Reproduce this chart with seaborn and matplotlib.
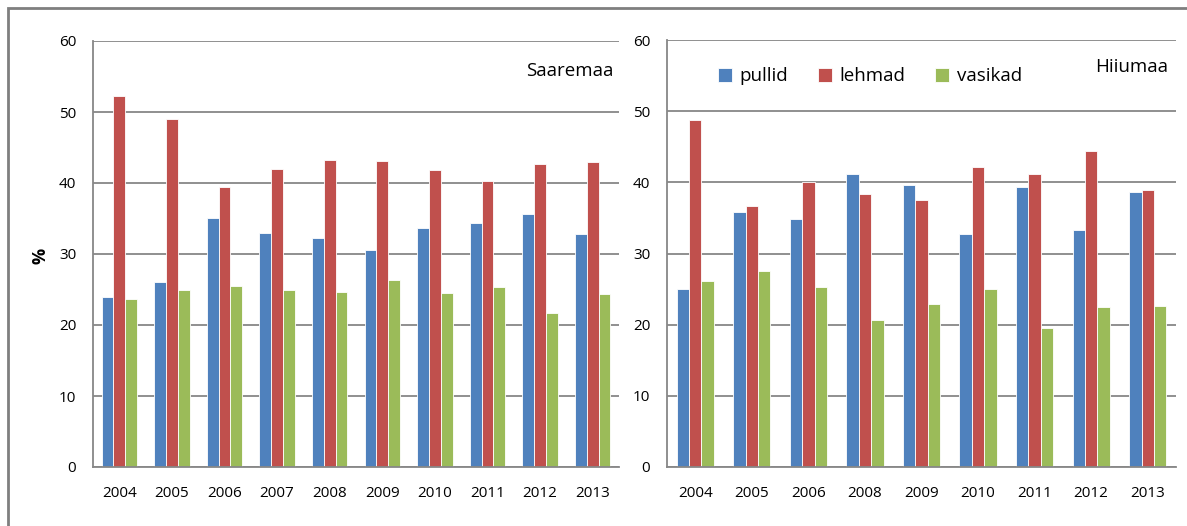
import seaborn as sns
import matplotlib.pyplot as plt
import numpy as np
import pandas as pd
from matplotlib.patches import Rectangle

# Data
years_saare = ['2004', '2005', '2006', '2007', '2008', '2009', '2010', '2011', '2012', '2013']
pullid_saare = [23.9, 26.0, 35.0, 33.0, 32.2, 30.6, 33.6, 34.3, 35.7, 32.8]
lehmad_saare = [52.2, 49.0, 39.5, 42.0, 43.2, 43.1, 41.9, 40.3, 42.7, 42.9]
vasikad_saare = [23.6, 24.9, 25.5, 25.0, 24.6, 26.3, 24.5, 25.4, 21.7, 24.3]

years_hiiu = ['2004', '2005', '2006', '2008', '2009', '2010', '2011', '2012', '2013']
pullid_hiiu = [25.0, 35.8, 34.8, 41.2, 39.6, 32.8, 39.4, 33.3, 38.7]
lehmad_hiiu = [48.8, 36.7, 40.0, 38.3, 37.5, 42.2, 41.2, 44.4, 38.9]
vasikad_hiiu = [26.1, 27.6, 25.3, 20.6, 22.9, 25.0, 19.5, 22.5, 22.6]

series = ['pullid', 'lehmad', 'vasikad']
colours = ['#4F81BD', '#C0504D', '#9BBB59']
grey = '#878787'


def long_form(years, pullid, lehmad, vasikad):
    df = pd.DataFrame({'year': years, 'pullid': pullid,
                       'lehmad': lehmad, 'vasikad': vasikad})
    return df.melt(id_vars='year', var_name='series', value_name='value')


df_saare = long_form(years_saare, pullid_saare, lehmad_saare, vasikad_saare)
df_hiiu = long_form(years_hiiu, pullid_hiiu, lehmad_hiiu, vasikad_hiiu)

sns.set_style('white')
plt.rcParams['font.family'] = ['Open Sans', 'DejaVu Sans']
plt.rcParams['text.color'] = 'black'
plt.rcParams['xtick.labelcolor'] = 'black'
plt.rcParams['ytick.labelcolor'] = 'black'

fig = plt.figure(figsize=(11.87, 5.26), dpi=100)
ax1 = fig.add_axes([93 / 1187, 1 - 467 / 526, 526 / 1187, 426 / 526])
ax2 = fig.add_axes([667 / 1187, 1 - 467 / 526, 509 / 1187, 427 / 526])

# outer frame
fig.patches.append(Rectangle((8 / 1187, -0.05), 1.1, 1 - 8 / 526 + 0.05,
                             transform=fig.transFigure, fill=False,
                             edgecolor='#7f7f7f', linewidth=2, zorder=0))


def draw_panel(ax, data, years, width, legend):
    sns.barplot(data=data, x='year', y='value', hue='series', order=years,
                hue_order=series, palette=colours, width=width, ax=ax,
                edgecolor='white', linewidth=0.6, legend=legend, saturation=1)
    ax.set_ylim(0, 60)
    ax.set_yticks(np.arange(0, 61, 10))
    ax.set_xlim(-0.5, len(years) - 0.5)
    ax.set_axisbelow(True)
    ax.yaxis.grid(True, color=grey, linewidth=1.3)
    for side in ['top', 'right']:
        ax.spines[side].set_visible(False)
    for side in ['left', 'bottom']:
        ax.spines[side].set_color(grey)
        ax.spines[side].set_linewidth(1.3)
    ax.set_xlabel('')
    ax.set_ylabel('')
    ax.set_xticks(np.arange(-0.5, len(years), 1), minor=True)
    ax.tick_params(axis='x', which='major', length=0, pad=14, labelsize=11,
                   labelcolor='black')
    ax.tick_params(axis='x', which='minor', length=6, width=1.3, color=grey,
                   direction='out')
    ax.tick_params(axis='y', length=6, width=1.3, color=grey, direction='out',
                   labelsize=11, pad=6, labelcolor='black')


draw_panel(ax1, df_saare, years_saare, 0.67, False)
draw_panel(ax2, df_hiiu, years_hiiu, 0.66, True)

ax1.text(0.99, 0.93, 'Saaremaa', transform=ax1.transAxes, ha='right',
         va='center', fontsize=13.5, color='black')
ax2.text(0.985, 0.937, 'Hiiumaa', transform=ax2.transAxes, ha='right',
         va='center', fontsize=13.5, color='black')
fig.text(40 / 1187, 1 - 256 / 526, '%', rotation=90, ha='center',
         va='center', fontsize=13, fontweight='bold', color='black')

handles, labels = ax2.get_legend_handles_labels()
leg = ax2.legend(handles, labels, loc='center left', bbox_to_anchor=(0.085, 0.915),
                 ncol=3, frameon=False, fontsize=13.5, handlelength=0.75,
                 handleheight=0.75, handletextpad=0.4, columnspacing=1.6,
                 borderaxespad=0)
for t in leg.get_texts():
    t.set_color('black')

plt.savefig('out.png', dpi=100)
print('Successfully completed')
